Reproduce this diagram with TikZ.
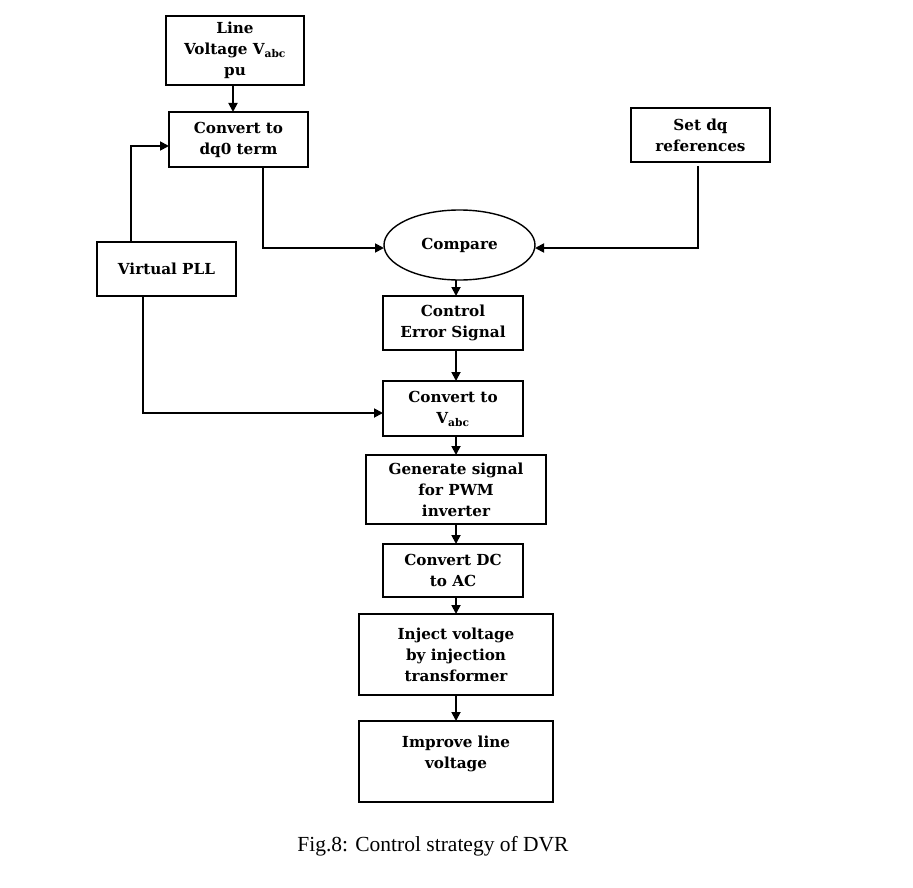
\documentclass[tikz,border=0pt]{standalone}
\usepackage{fontspec}
\newfontfamily\capfont{Liberation Serif}
\newfontfamily\boxfont{DejaVu Serif}
\usetikzlibrary{shapes.geometric,arrows.meta}
\begin{document}
\begin{tikzpicture}[x=1pt,y=-1pt,
  every node/.style={inner sep=0pt,outer sep=0pt},
  box/.style={draw,line width=1.8pt,rectangle,align=center,
    font=\boxfont\fontsize{15.2}{21}\selectfont\bfseries},
  oval/.style={draw,line width=1.4pt,ellipse,align=center,
    font=\boxfont\fontsize{15.2}{21}\selectfont\bfseries},
  conn/.style={line width=1.8pt},
  arr/.style={conn,-{Triangle[length=9pt,width=9pt]}}]
\useasboundingbox (0,0) rectangle (913,888);
% boxes
\node[box,minimum width=138,minimum height=69] (lv) at (235,50.5)
  {Line\\Voltage V\textsubscript{abc}\\pu};
\node[box,minimum width=139,minimum height=55] (dq) at (238.5,139.5)
  {Convert to\\dq0 term};
\node[box,minimum width=139,minimum height=54] (ref) at (700.5,135)
  {Set dq\\references};
\node[box,minimum width=139,minimum height=54] (pll) at (166.5,269)
  {Virtual PLL};
\node[oval,minimum width=151,minimum height=70] (cmp) at (459.5,245)
  {Compare};
\node[box,minimum width=140,minimum height=54] (ces) at (453,323)
  {Control\\Error Signal};
\node[box,minimum width=140,minimum height=55] (cv) at (453,408.5)
  {Convert to\\V\textsubscript{abc}};
\node[box,minimum width=180,minimum height=69] (gen) at (456,489.5)
  {Generate signal\\for PWM\\inverter};
\node[box,minimum width=140,minimum height=53] (dc) at (453,570.5)
  {Convert DC\\to AC};
\node[box,minimum width=194,minimum height=81] (inj) at (456,654.5)
  {Inject voltage\\by injection\\transformer};
\node[box,minimum width=194,minimum height=81] (imp) at (456,761.5)
  {Improve line\\voltage\\[-9pt]\strut};
% caption
\node[font=\capfont\fontsize{21.5}{26}\selectfont] (cap) at (433,846)
  {Fig.8: Control strategy of DVR};
% connectors
\draw[arr] ([xshift=-2pt]lv.south) -- ([xshift=-2pt]lv.south |- dq.north);
\draw[arr] ([xshift=-35.5pt]pll.north) |- ([yshift=-6.5pt]dq.west);
\draw[arr] ([xshift=24.5pt]dq.south) |- ([yshift=-3pt]cmp.west);
\draw[arr] ([xshift=-2.5pt,yshift=-4pt]ref.south) |- ([yshift=-3pt]cmp.east);
\draw[arr] ([xshift=-23.5pt]pll.south) |- ([yshift=-4.5pt]cv.west);
\draw[arr] (cmp.south -| inj) -- (ces.north -| inj);
\draw[arr] (ces.south -| inj) -- (cv.north -| inj);
\draw[arr] (cv.south -| inj) -- (gen.north);
\draw[arr] (gen.south) -- (dc.north -| inj);
\draw[arr] (dc.south -| inj) -- (inj.north);
\draw[arr] (inj.south) -- (imp.north);
\end{tikzpicture}
\end{document}
